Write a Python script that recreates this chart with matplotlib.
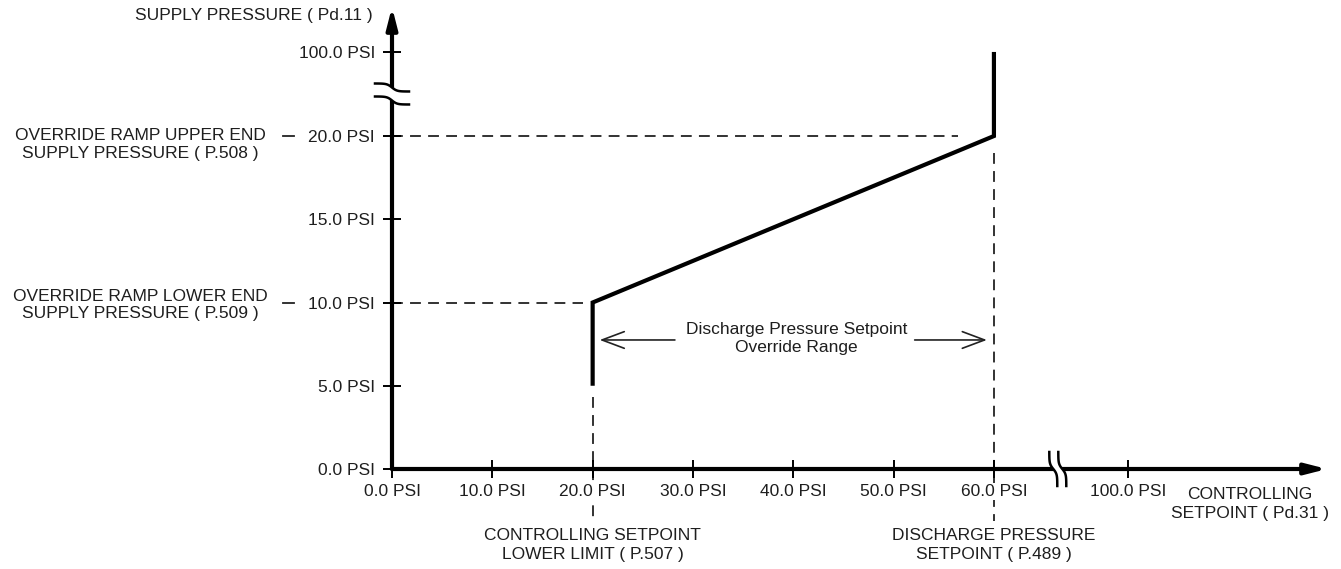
import numpy as np
import matplotlib
matplotlib.use("Agg")
import matplotlib.pyplot as plt
import matplotlib.transforms as mtransforms

# ramp of supply pressure override (controlling setpoint vs supply pressure)
ramp_x = [20.0, 20.0, 60.0, 60.0]
ramp_y = [5.0, 10.0, 20.0, 100.0]

x_ticks = [0, 10, 20, 30, 40, 50, 60, 100]
y_ticks = [0, 5, 10, 15, 20, 100]
x_ticklabels = ["%.1f PSI" % v for v in x_ticks]
y_ticklabels = ["%.1f PSI" % v for v in y_ticks]

sp_lower_limit = 20.0      # P.507
sp_discharge = 60.0        # P.489
supply_low = 10.0          # P.509
supply_high = 20.0         # P.508

plt.rcParams['font.family'] = ['Liberation Sans', 'DejaVu Sans']
plt.rcParams['font.size'] = 12.5
txt_col = '#1e1e1e'

# broken scales: linear up to the break, compressed section, then linear again
XK = 13.4 / 40.0
YK = 5.05 / 80.0

def fx(v):
    v = np.asarray(v, float)
    return np.where(v <= 60, v, np.where(v <= 100, 60 + (v - 60) * XK, 60 + 40 * XK + (v - 100)))

def fx_inv(t):
    t = np.asarray(t, float)
    return np.where(t <= 60, t, np.where(t <= 60 + 40 * XK, 60 + (t - 60) / XK, 100 + (t - 60 - 40 * XK)))

def fy(v):
    v = np.asarray(v, float)
    return np.where(v <= 20, v, np.where(v <= 100, 20 + (v - 20) * YK, 20 + 80 * YK + (v - 100)))

def fy_inv(t):
    t = np.asarray(t, float)
    return np.where(t <= 20, t, np.where(t <= 20 + 80 * YK, 20 + (t - 20) / YK, 100 + (t - 20 - 80 * YK)))

W, H = 1341, 569
fig = plt.figure(figsize=(W / 100, H / 100), dpi=100)
ax = fig.add_axes([392 / W, 100 / H, 935 / W, 462 / H])
ax.set_xscale('function', functions=(fx, fx_inv))
ax.set_yscale('function', functions=(fy, fy_inv))
ax.set_xlim(0, 119.8)
ax.set_ylim(0, 102.7)
ax.patch.set_visible(False)
for s in ax.spines.values():
    s.set_visible(False)

ax.set_xticks(x_ticks)
ax.set_xticklabels(x_ticklabels)
ax.set_yticks(y_ticks)
ax.set_yticklabels(y_ticklabels)
ax.minorticks_off()
ax.tick_params(direction='inout', length=12.5, width=1.4, color='black',
               labelcolor=txt_col, labelsize=12.5)
ax.tick_params(axis='y', pad=6.0)
ax.tick_params(axis='x', pad=4.5)
for lbl in ax.get_xticklabels() + ax.get_yticklabels():
    lbl.set_bbox(dict(facecolor='white', edgecolor='none', pad=1.0))

# axis lines with arrow heads
arrow_kw = dict(arrowstyle='-|>,head_length=1.25,head_width=0.32', lw=3, color='black',
                shrinkA=0, shrinkB=0, mutation_scale=10)
ax.annotate('', xy=(1, 0), xytext=(0, 0), xycoords='axes fraction', arrowprops=arrow_kw, zorder=3)
ax.annotate('', xy=(0, 1), xytext=(0, 0), xycoords='axes fraction', arrowprops=arrow_kw, zorder=3)

# reference dashed lines
dash_kw = dict(color='#222222', lw=1.3, linestyle=(0, (6, 4)), clip_on=False, zorder=1)
ax.plot([0, 56.4], [supply_high, supply_high], **dash_kw)
ax.plot([0, 19.0], [supply_low, supply_low], **dash_kw)
ax.plot([sp_lower_limit, sp_lower_limit], [4.3, -3.1], **dash_kw)
ax.plot([sp_discharge, sp_discharge], [19.0, -3.1], **dash_kw)
# small leading dashes next to the left hand labels
ax.plot([-10.9, -9.8], [supply_high, supply_high], color='#222222', lw=1.3, clip_on=False)
ax.plot([-10.9, -9.8], [supply_low, supply_low], color='#222222', lw=1.3, clip_on=False)

# ramp
ax.plot(ramp_x, ramp_y, color='black', lw=3, solid_joinstyle='miter', solid_capstyle='butt',
        clip_on=False, zorder=4)

# override range arrows
rng_kw = dict(arrowstyle='->,head_length=1.6,head_width=0.6', lw=1.2, color='#222222',
              shrinkA=0, shrinkB=0, mutation_scale=10)
ax.annotate('', xy=(20.7, 7.75), xytext=(28.2, 7.75), arrowprops=rng_kw)
ax.annotate('', xy=(59.3, 7.75), xytext=(52.1, 7.75), arrowprops=rng_kw)
ax.text(40.3, 7.85, "Discharge Pressure Setpoint\nOverride Range", ha='center', va='center',
        multialignment='center', color=txt_col, linespacing=1.3)

# axis breaks
def draw_break(xd, yd, vertical):
    trans = fig.dpi_scale_trans + mtransforms.ScaledTranslation(xd, yd, ax.transData)
    s = np.linspace(-17, 17, 60)
    off = np.tanh(s / 5.0) * 4.0
    if vertical:
        # axis runs vertically: strokes are horizontal
        a = (s, 6.5 - off)
        b = (s, -6.5 - off)
        ax.fill_between(s / 100, (-6.5 - off) / 100, (6.5 - off) / 100, color='white',
                        transform=trans, clip_on=False, zorder=5, lw=0)
    else:
        a = (-4.5 - off, s)
        b = (4.5 - off, s)
        ax.fill_betweenx(s / 100, (-4.5 - off) / 100, (4.5 - off) / 100, color='white',
                         transform=trans, clip_on=False, zorder=5, lw=0)
    ax.plot(a[0] / 100, a[1] / 100, color='black', lw=1.8, transform=trans, clip_on=False, zorder=6)
    ax.plot(b[0] / 100, b[1] / 100, color='black', lw=1.8, transform=trans, clip_on=False, zorder=6)

draw_break(0, 60, True)
draw_break(79, 0, False)

# labels
ax.text(-1.9, 102.2, "SUPPLY PRESSURE ( Pd.11 )", ha='right', va='center', color=txt_col, clip_on=False)
ax.text(-25.1, 19.5, "OVERRIDE RAMP UPPER END\nSUPPLY PRESSURE ( P.508 )", ha='center', va='center',
        multialignment='center', color=txt_col, linespacing=1.22, clip_on=False)
ax.text(-25.1, 9.85, "OVERRIDE RAMP LOWER END\nSUPPLY PRESSURE ( P.509 )", ha='center', va='center',
        multialignment='center', color=txt_col, linespacing=1.22, clip_on=False)
ax.text(sp_lower_limit, -4.56, "CONTROLLING SETPOINT\nLOWER LIMIT ( P.507 )", ha='center', va='center',
        multialignment='center', color=txt_col, linespacing=1.36, clip_on=False)
ax.text(sp_discharge, -4.56, "DISCHARGE PRESSURE\nSETPOINT ( P.489 )", ha='center', va='center',
        multialignment='center', color=txt_col, linespacing=1.36, clip_on=False)
ax.text(112.1, -2.1, "CONTROLLING\nSETPOINT ( Pd.31 )", ha='center', va='center',
        multialignment='center', color=txt_col, linespacing=1.38, clip_on=False)

fig.savefig("out.png", dpi=100)
